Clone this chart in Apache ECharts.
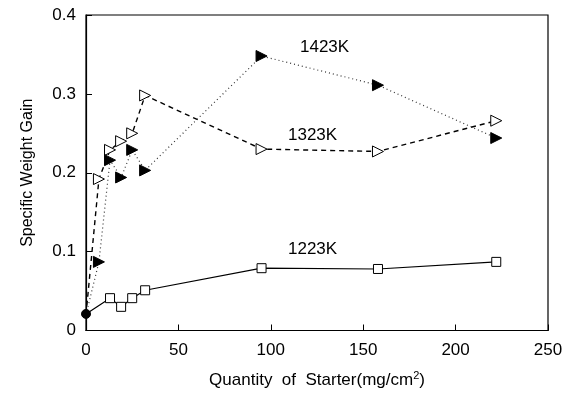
<!DOCTYPE html>
<html>
<head>
<meta charset="utf-8">
<script src="https://cdn.jsdelivr.net/npm/echarts@6/dist/echarts.min.js"></script>
<style>
  html, body { margin: 0; padding: 0; background: #fff; }
  #main { width: 566px; height: 394px; }
</style>
</head>
<body>
<div id="main"></div>
<script>
// x values (mg/cm2) for each series
var x1223 = [0, 13, 19, 25, 32, 95, 158, 222];
var y1223 = [0.021, 0.041, 0.030, 0.041, 0.051, 0.079, 0.078, 0.087];

var x1323 = [0, 7, 13, 19, 25, 32, 95, 158, 222];
var y1323 = [0.02, 0.192, 0.229, 0.240, 0.250, 0.298, 0.230, 0.227, 0.266];

var x1423 = [0, 7, 13, 19, 25, 32, 95, 158, 222];
var y1423 = [0.02, 0.087, 0.216, 0.194, 0.229, 0.203, 0.348, 0.311, 0.244];

var xTicks = [0, 50, 100, 150, 200, 250];
var yTicks = [0, 0.1, 0.2, 0.3, 0.4];

var font = 'Liberation Sans';

function pairs(xs, ys) {
  var out = [];
  for (var i = 0; i < xs.length; i++) {
    out.push([xs[i], ys[i]]);
  }
  return out;
}

var d1223 = pairs(x1223, y1223);
// the first point is drawn as a filled dot
d1223[0] = { value: d1223[0], symbol: 'circle', symbolSize: 9, itemStyle: { color: '#000' } };
var d1323 = pairs(x1323, y1323);
d1323[0] = { value: d1323[0], symbol: 'none' };
var d1423 = pairs(x1423, y1423);
d1423[0] = { value: d1423[0], symbol: 'none' };

var chart = echarts.init(document.getElementById('main'), null, { renderer: 'canvas' });

var option = {
  animation: false,
  backgroundColor: '#fff',
  textStyle: { fontFamily: font },
  grid: {
    left: 86,
    right: 18,
    top: 15,
    bottom: 61,
    show: true,
    borderColor: '#000',
    borderWidth: 1.2
  },
  xAxis: {
    type: 'value',
    min: xTicks[0],
    max: xTicks[xTicks.length - 1],
    interval: 50,
    name: 'Quantity  of  Starter(mg/cm{sup|2})',
    nameLocation: 'middle',
    nameGap: 40,
    nameTextStyle: {
      color: '#000',
      fontSize: 17,
      fontFamily: font,
      rich: { sup: { fontSize: 11, verticalAlign: 'top', padding: [0, 0, 9, 0], color: '#000', fontFamily: font } }
    },
    axisLine: { show: true, lineStyle: { color: '#000', width: 1.2 } },
    axisTick: { inside: true, length: 6, lineStyle: { color: '#000' } },
    axisLabel: { color: '#000', fontSize: 17, margin: 11, fontFamily: font },
    splitLine: { show: false }
  },
  yAxis: {
    type: 'value',
    min: yTicks[0],
    max: yTicks[yTicks.length - 1],
    interval: 0.1,
    name: 'Specific Weight Gain',
    nameLocation: 'middle',
    nameGap: 50,
    nameTextStyle: { color: '#000', fontSize: 16, fontFamily: font },
    axisLine: { show: true, lineStyle: { color: '#000', width: 1.2 } },
    axisTick: { inside: true, length: 6, lineStyle: { color: '#000' } },
    axisLabel: { color: '#000', fontSize: 17, margin: 10, fontFamily: font },
    splitLine: { show: false }
  },
  series: [
    {
      name: '1223K',
      type: 'line',
      data: d1223,
      symbol: 'rect',
      symbolSize: 9,
      itemStyle: { color: '#fff', borderColor: '#000', borderWidth: 1 },
      lineStyle: { color: '#000', width: 1.2, type: 'solid' },
      z: 3
    },
    {
      name: '1323K',
      type: 'line',
      data: d1323,
      symbol: 'triangle',
      symbolRotate: -90,
      symbolSize: 11,
      itemStyle: { color: '#fff', borderColor: '#000', borderWidth: 1 },
      lineStyle: { color: '#000', width: 1.4, type: [5, 4] },
      z: 2
    },
    {
      name: '1423K',
      type: 'line',
      data: d1423,
      symbol: 'triangle',
      symbolRotate: -90,
      symbolSize: 11,
      itemStyle: { color: '#000', borderColor: '#000', borderWidth: 1 },
      lineStyle: { color: '#333', width: 1.2, type: [1, 3] },
      z: 2
    }
  ],
  graphic: [
    { type: 'text', left: 300, top: 39, style: { text: '1423K', fontSize: 17, fontFamily: font, fill: '#000' } },
    { type: 'text', left: 288, top: 127, style: { text: '1323K', fontSize: 17, fontFamily: font, fill: '#000' } },
    { type: 'text', left: 288, top: 241, style: { text: '1223K', fontSize: 17, fontFamily: font, fill: '#000' } }
  ]
};

chart.setOption(option);
</script>
</body>
</html>
